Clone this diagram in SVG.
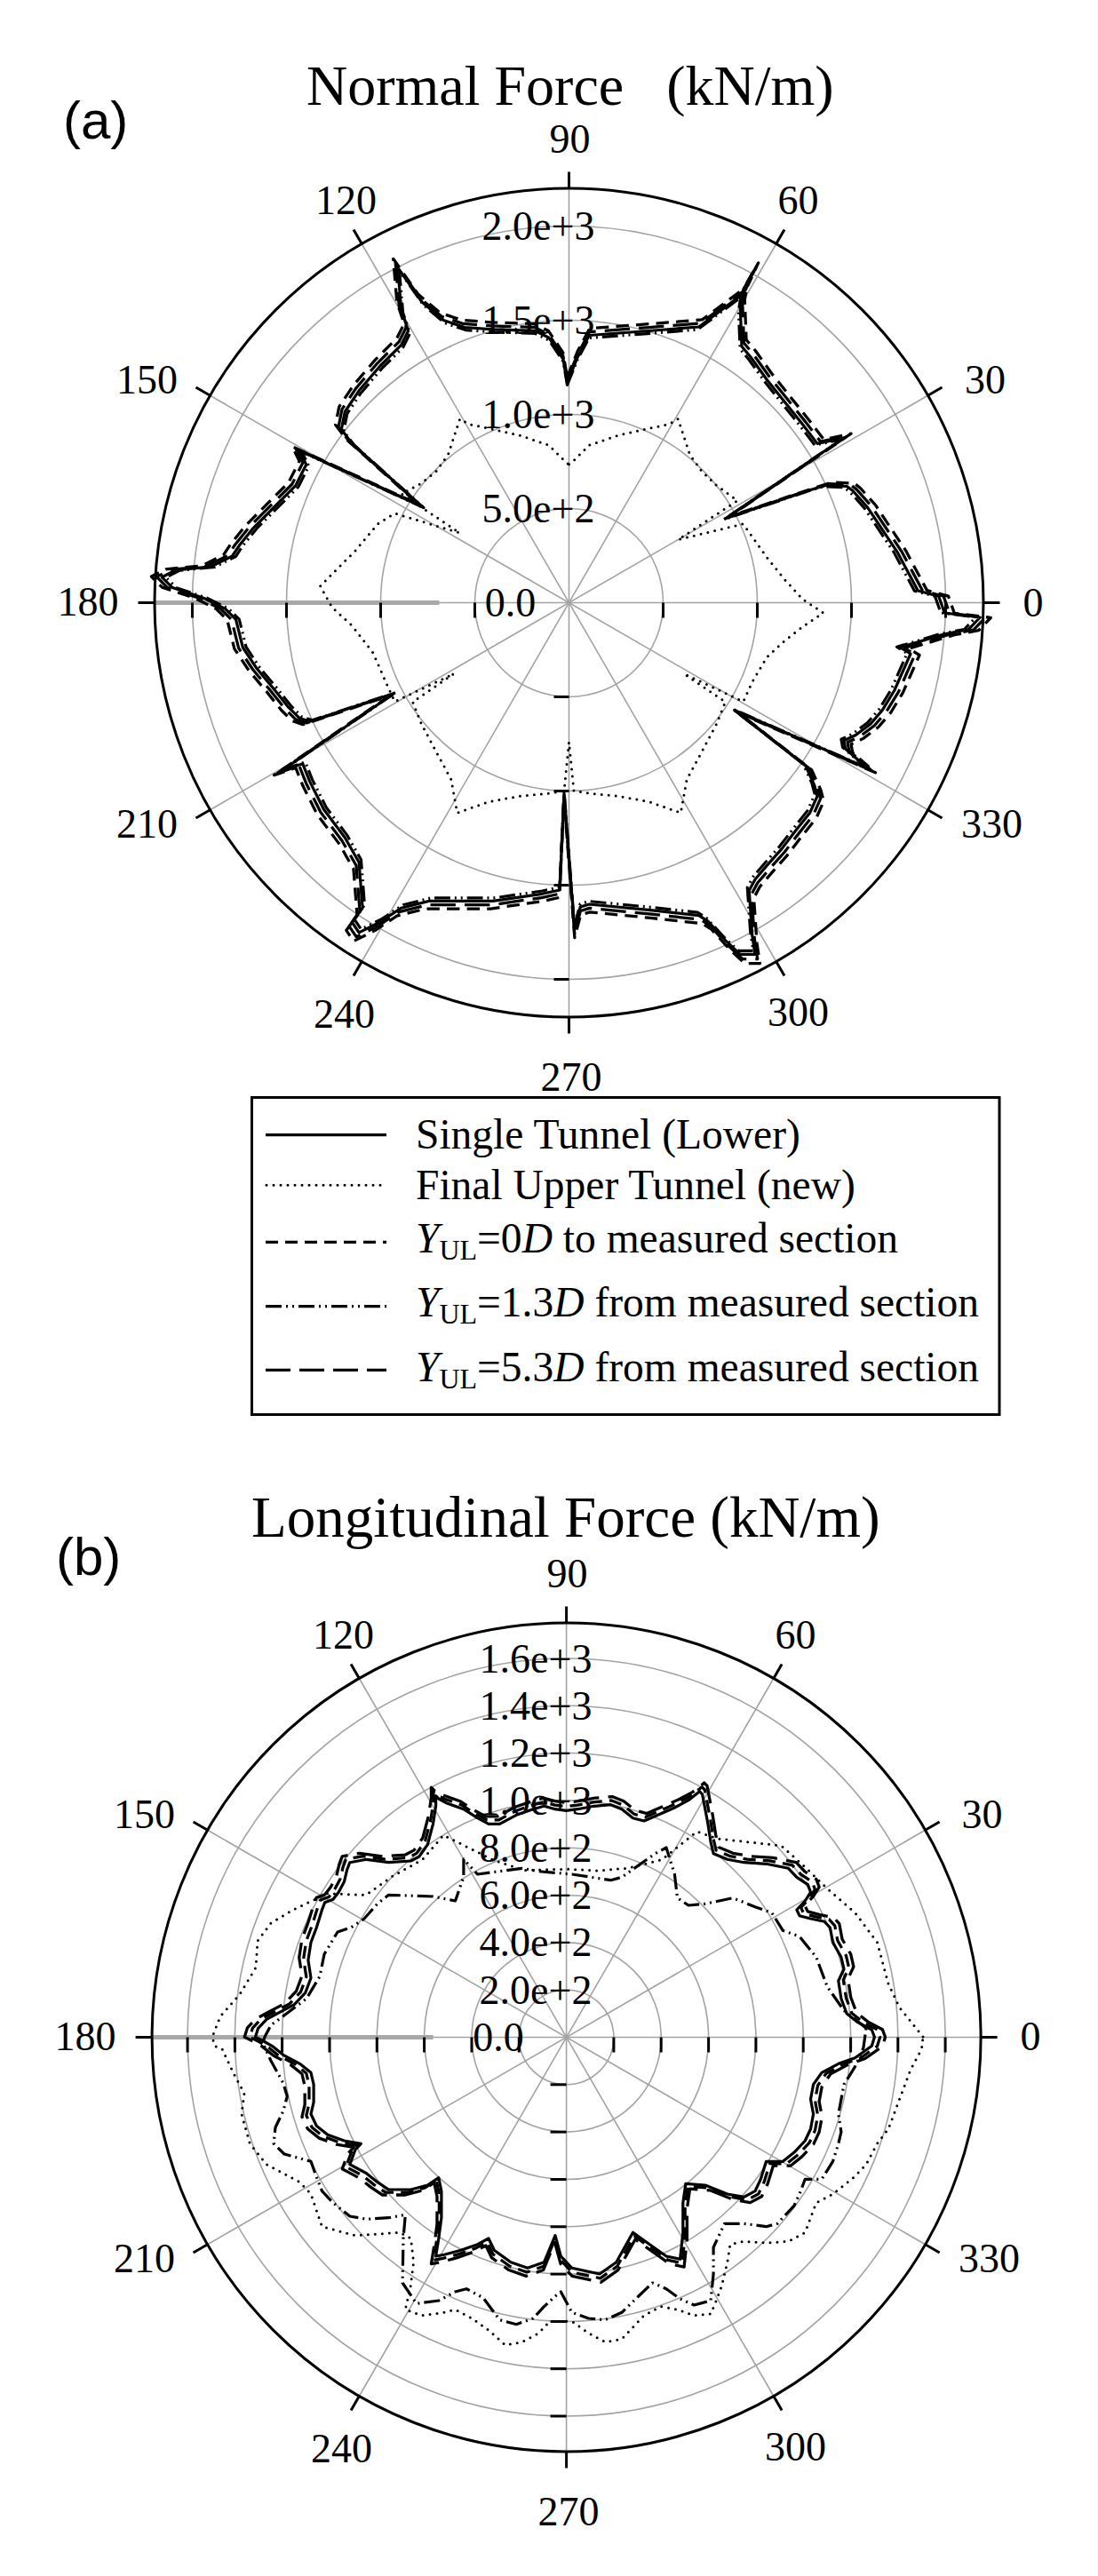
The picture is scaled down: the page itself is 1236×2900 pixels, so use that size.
<svg xmlns="http://www.w3.org/2000/svg" width="1236" height="2900" viewBox="0 0 1236 2900">
<style>
text{font-family:"Liberation Serif","Times New Roman",serif;fill:#000}
.sans{font-family:"Liberation Sans",Arial,sans-serif}
.ang{font-size:46px;text-anchor:middle}
.val{font-size:46px;text-anchor:middle}
.grid{stroke:#a3a3a3;stroke-width:1.6;fill:none}
.thick{stroke:#a8a8a8;stroke-width:5}
.outer{stroke:#000;stroke-width:3;fill:none}
.tick{stroke:#000;stroke-width:3}
.ln{stroke:#000;stroke-width:3.2;fill:none;stroke-linejoin:round}
.dot{stroke:#000;stroke-width:3;fill:none;stroke-dasharray:0 8;stroke-linecap:round}
.dash{stroke-dasharray:14 8}
.dashdot{stroke-dasharray:18 5 2 5 2 5}
.longdash{stroke-dasharray:28 10}
.leg{font-size:47.5px}
</style>
<defs>
<path id="solidA" d="M638.5,431 L650,402.5 663.3,377.5 730,372.5 786.7,368 836.7,330.6 848.3,305.6 836.7,326 833.3,346 835,390 845,402 863.3,427.5 883.3,452.5 903.3,477.5 920,499.4 950,493 816.7,583.8 913.3,551.3 930,546.3 953.3,547.5 960,552.5 976.7,571.3 993.3,596.3 1010,621.3 1023.3,646.3 1033.3,665 1056.7,671.3 1063.3,690 1103.3,695 1090,708.8 1063.3,713.8 1013.3,728.8 1025,736 1006.7,777.5 993.3,799.4 980,815 963.3,827.5 950,833.8 951.7,843 976.7,865 826.7,799.4 906.7,861.9 916.7,883.8 920,896.3 911.7,915 896.7,933.8 880,955.6 863.3,974.4 850,990 843.3,1002.5 846.7,1052.5 850,1074.4 833.3,1074.4 816.7,1058.8 796.7,1036.9 786.7,1030.6 730,1024.4 663.3,1018 653.3,1021 646.7,1046 635,893 630,1002 610.1,1006.3 554.7,1014.3 483.4,1014.3 451.7,1022.2 427.9,1038 404.1,1049.9 396.2,1038 408.1,1022.2 404.1,970.7 388.3,943 364.5,911.3 348.6,879.6 340.7,859.7 317,867.7 443.7,780.5 348.6,812.2 336.8,808.2 324.9,796.4 309,776.5 289.2,752.8 273.4,729 265.5,697.3 253.6,685.4 229.8,673.5 194.1,661.6 182.3,649.8 198,641.8 237.7,637.9 261.5,626 269.4,614.1 285.3,594.3 309,570.5 332.8,546.7 344.7,523 336.8,507.1 475.4,570.5 396.2,499.2 384.3,483.4 388.3,463.5 404.1,439.8 427.9,412 451.7,388.3 459.6,372.4 451.7,348.7 447.7,301.1 475,340 499.2,360.5 523,368.5 554.7,370.8 602.2,372.4 618,380.3 633.9,404.1 Z"/>
<path id="solidB" d="M981.3,2285 L965.6,2276.7 953.1,2266.7 946.9,2250 943.8,2230 950,2216.7 946.9,2203.3 937.5,2186.7 934.4,2170 928.1,2163.3 912.5,2160 900,2156.7 896.9,2150 906.3,2140 912.5,2130 909.4,2121.7 896.9,2113.3 887.5,2103.3 862.5,2098.3 837.5,2096.7 818.8,2093.3 803.1,2086.7 800,2073.3 796.9,2053.3 793.8,2036.7 790.6,2020 787.5,2016.7 775,2026.7 759.4,2035 740.6,2043.3 725,2050 712.5,2046.7 700,2036.7 687.5,2031.7 668.8,2033.3 650,2036.7 637.5,2038.3 625,2036.7 612.5,2033.3 600,2036.7 581.3,2043.3 562.5,2053.3 550,2053.3 537.5,2046.7 521.9,2036.7 503.1,2030 493.8,2025 490.6,2021.7 490.6,2033.3 487.5,2053.3 481.3,2076.7 471.9,2090 462.5,2095 437.5,2096.7 412.5,2093.3 393.8,2096.7 390.6,2105 387.5,2118.3 381.3,2130 375,2138.3 365.6,2141.7 362.5,2150 356.3,2170 350,2186.7 346.9,2206.7 350,2226.7 343.8,2243.3 331.3,2256.7 312.5,2266.7 300,2273.3 290.6,2283.3 287.5,2293.3 296.9,2298 306.3,2303.3 318.8,2313.3 337.5,2323.3 350,2333.3 353.1,2346.7 353.1,2366.7 350,2380 356.3,2393.3 368.8,2403.3 387.5,2410 406.3,2413.3 400,2420 393.8,2436.7 400,2440 412.5,2446.7 425,2456.7 437.5,2465 462.5,2465 481.3,2460 493.8,2451.7 496.9,2466.7 496.9,2496.7 493.8,2520 490.6,2540 500,2538.3 518.8,2533.3 537.5,2526.7 550,2520 556.3,2533.3 575,2546.7 593.8,2553.3 612.5,2546.7 625,2516.7 631.3,2540 643.8,2553.3 675,2560 693.8,2546.7 712.5,2513.3 731.3,2526.7 750,2540 765.6,2543.3 768.8,2513.3 768.8,2480 771.9,2458.3 793.8,2460 818.8,2470 837.5,2473.3 850,2466.7 856.3,2453.3 862.5,2433.3 881.3,2433.3 893.8,2423.3 906.3,2410 912.5,2396.7 915.6,2380 912.5,2363.3 915.6,2346.7 925,2333.3 943.8,2323.3 962.5,2316.7 971.9,2310 981.3,2303.3 984.4,2293.3 Z"/>
</defs>

<!-- Titles -->
<text class="sans" x="71" y="156" font-size="60">(a)</text>
<text x="345" y="118" font-size="64" xml:space="preserve">Normal Force   (kN/m)</text>
<text class="sans" x="63" y="1773" font-size="60">(b)</text>
<text x="283" y="1730" font-size="65">Longitudinal Force (kN/m)</text>

<!-- ===== Plot (a) ===== -->
<g id="plotA">
  <g id="gridA" transform="translate(640.5 678.5)">
    <circle class="grid" r="106"/><circle class="grid" r="212"/><circle class="grid" r="318"/><circle class="grid" r="424"/>
    <line class="grid" x1="-466.5" x2="466.5"/>
    <line class="grid" x1="-466.5" x2="466.5" transform="rotate(30)"/>
    <line class="grid" x1="-466.5" x2="466.5" transform="rotate(60)"/>
    <line class="grid" x1="-466.5" x2="466.5" transform="rotate(90)"/>
    <line class="grid" x1="-466.5" x2="466.5" transform="rotate(120)"/>
    <line class="grid" x1="-466.5" x2="466.5" transform="rotate(150)"/>
    <line class="thick" x1="-466.5" x2="-146"/>
  </g>
  <g id="valLabelsA">
    <text class="val" x="574.5" y="694">0.0</text>
    <text class="val" x="606" y="588">5.0e+2</text>
    <text class="val" x="606" y="482">1.0e+3</text>
    <text class="val" x="606" y="376">1.5e+3</text>
    <text class="val" x="606" y="270">2.0e+3</text>
  </g>
  <g id="axisTicksA" transform="translate(640.5 678.5)">
    <g class="tick">
      <line x1="106" y1="0" x2="106" y2="17"/><line x1="212" y1="0" x2="212" y2="17"/><line x1="318" y1="0" x2="318" y2="17"/><line x1="424" y1="0" x2="424" y2="17"/>
      <line x1="-106" y1="0" x2="-106" y2="17"/><line x1="-212" y1="0" x2="-212" y2="17"/><line x1="-318" y1="0" x2="-318" y2="17"/><line x1="-424" y1="0" x2="-424" y2="17"/>
      <line x1="0" y1="106" x2="-17" y2="106"/><line x1="0" y1="212" x2="-17" y2="212"/><line x1="0" y1="318" x2="-17" y2="318"/><line x1="0" y1="424" x2="-17" y2="424"/>
    </g>
  </g>
  <g id="seriesA">
    <path id="dotA" class="dot" d="M640.5,522.7 L643.2,521.2 663.2,501.2 696.3,490.1 729.8,482.5 753.3,477.6 763.3,471.6 776.5,511.7 790,530.6 806.6,546.4 830.2,563.6 763.5,607.5 836.6,589.9 863.2,627.5 883.3,652.5 903.4,674.4 926.7,690 903.3,705.7 883.3,721.3 863.3,739.9 846.6,768.1 836.7,789.9 770,758.5 816.5,790.2 806.6,815 790,846.3 773.2,877.4 766.3,915.1 730.1,902.5 696.4,896.4 663.1,893.1 646,890.4 640.5,835.4 635,890.4 617.9,893.1 584.6,896.4 550.9,902.5 514.7,915.1 507.8,877.4 491,846.3 474.4,815 464.5,790.2 511,758.5 444.3,789.9 434.4,768.1 420,735 396,704 374,684 360.5,660 380,640 400,620 425,590 444.4,578 517.5,600 452,556 474.4,544 491,530.6 504.5,511.7 517.7,471.6 527.7,477.6 551.2,482.5 584.7,490.1 617.8,501.2 637.8,521.2 Z"/>
    <use href="#solidA" class="ln dashdot" transform="translate(640.5 678.5) scale(0.99) translate(-640.5 -678.5)"/>
    <use href="#solidA" class="ln longdash" transform="translate(640.5 678.5) scale(1.013) translate(-640.5 -678.5)"/>
    <use href="#solidA" class="ln dash" transform="translate(640.5 678.5) scale(1.026) translate(-640.5 -678.5)"/>
    <use href="#solidA" class="ln"/>
  </g>
  <g id="frameA" transform="translate(640.5 678.5)">
    <circle class="outer" r="466.5"/>
    <g class="tick">
      <line x1="466.5" x2="485"/>
      <line x1="466.5" x2="485" transform="rotate(-30)"/>
      <line x1="466.5" x2="485" transform="rotate(-60)"/>
      <line x1="466.5" x2="485" transform="rotate(-90)"/>
      <line x1="466.5" x2="485" transform="rotate(-120)"/>
      <line x1="466.5" x2="485" transform="rotate(-150)"/>
      <line x1="466.5" x2="485" transform="rotate(180)"/>
      <line x1="466.5" x2="485" transform="rotate(150)"/>
      <line x1="466.5" x2="485" transform="rotate(120)"/>
      <line x1="466.5" x2="485" transform="rotate(90)"/>
      <line x1="466.5" x2="485" transform="rotate(60)"/>
      <line x1="466.5" x2="485" transform="rotate(30)"/>
    </g>
  </g>
  <g id="angLabelsA">
    <text class="ang" x="1163" y="694">0</text>
    <text class="ang" x="1109" y="443">30</text>
    <text class="ang" x="898.5" y="241">60</text>
    <text class="ang" x="641.5" y="172">90</text>
    <text class="ang" x="389.5" y="241">120</text>
    <text class="ang" x="165.5" y="443">150</text>
    <text class="ang" x="99" y="693">180</text>
    <text class="ang" x="165.5" y="943">210</text>
    <text class="ang" x="387.5" y="1157">240</text>
    <text class="ang" x="643" y="1227.5">270</text>
    <text class="ang" x="898.5" y="1154.5">300</text>
    <text class="ang" x="1116.5" y="943">330</text>
  </g>
</g>

<!-- ===== Legend ===== -->
<g id="legend">
  <rect x="283.5" y="1235.5" width="841.5" height="357" fill="#fff" stroke="#000" stroke-width="3"/>
  <line class="ln" x1="299" y1="1277.7" x2="435" y2="1277.7"/>
  <line class="dot" x1="300" y1="1334.3" x2="435" y2="1334.3"/>
  <line class="ln dash" x1="299" y1="1398.3" x2="435" y2="1398.3"/>
  <line class="ln dashdot" x1="299" y1="1470.7" x2="435" y2="1470.7"/>
  <line class="ln longdash" x1="299" y1="1542.3" x2="435" y2="1542.3"/>
  <text class="leg" x="468" y="1293">Single Tunnel (Lower)</text>
  <text class="leg" x="468" y="1350">Final Upper Tunnel (new)</text>
  <text class="leg" x="468" y="1410"><tspan font-style="italic">Y</tspan><tspan font-size="32" dy="8">UL</tspan><tspan dy="-8">=0</tspan><tspan font-style="italic">D</tspan> to measured section</text>
  <text class="leg" x="468" y="1482"><tspan font-style="italic">Y</tspan><tspan font-size="32" dy="8">UL</tspan><tspan dy="-8">=1.3</tspan><tspan font-style="italic">D</tspan> from measured section</text>
  <text class="leg" x="468" y="1555"><tspan font-style="italic">Y</tspan><tspan font-size="32" dy="8">UL</tspan><tspan dy="-8">=5.3</tspan><tspan font-style="italic">D</tspan> from measured section</text>
</g>

<!-- ===== Plot (b) ===== -->
<g id="plotB">
  <g id="gridB" transform="translate(637.6 2293.5)">
    <circle class="grid" r="53.3"/><circle class="grid" r="106.6"/><circle class="grid" r="160"/><circle class="grid" r="213.3"/>
    <circle class="grid" r="266.6"/><circle class="grid" r="320"/><circle class="grid" r="373.2"/><circle class="grid" r="426.5"/>
    <line class="grid" x1="-466.5" x2="466.5"/>
    <line class="grid" x1="-466.5" x2="466.5" transform="rotate(30)"/>
    <line class="grid" x1="-466.5" x2="466.5" transform="rotate(60)"/>
    <line class="grid" x1="-466.5" x2="466.5" transform="rotate(90)"/>
    <line class="grid" x1="-466.5" x2="466.5" transform="rotate(120)"/>
    <line class="grid" x1="-466.5" x2="466.5" transform="rotate(150)"/>
    <line class="thick" x1="-466.5" x2="-150"/>
  </g>
  <g id="valLabelsB">
    <text class="val" x="561" y="2309">0.0</text>
    <text class="val" x="603" y="2255.7">2.0e+2</text>
    <text class="val" x="603" y="2202.4">4.0e+2</text>
    <text class="val" x="603" y="2149.1">6.0e+2</text>
    <text class="val" x="603" y="2095.8">8.0e+2</text>
    <text class="val" x="603" y="2042.5">1.0e+3</text>
    <text class="val" x="603" y="1989.2">1.2e+3</text>
    <text class="val" x="603" y="1935.9">1.4e+3</text>
    <text class="val" x="603" y="1882.6">1.6e+3</text>
  </g>
  <g id="axisTicksB" transform="translate(637.6 2293.5)">
    <g class="tick">
      <line x1="53.3" x2="53.3" y2="17"/><line x1="106.6" x2="106.6" y2="17"/><line x1="160" x2="160" y2="17"/><line x1="213.3" x2="213.3" y2="17"/>
      <line x1="266.6" x2="266.6" y2="17"/><line x1="320" x2="320" y2="17"/><line x1="373.2" x2="373.2" y2="17"/><line x1="426.5" x2="426.5" y2="17"/>
      <line x1="-53.3" x2="-53.3" y2="17"/><line x1="-106.6" x2="-106.6" y2="17"/><line x1="-160" x2="-160" y2="17"/><line x1="-213.3" x2="-213.3" y2="17"/>
      <line x1="-266.6" x2="-266.6" y2="17"/><line x1="-320" x2="-320" y2="17"/><line x1="-373.2" x2="-373.2" y2="17"/><line x1="-426.5" x2="-426.5" y2="17"/>
      <line y1="53.3" x2="-18" y2="53.3"/><line y1="106.6" x2="-18" y2="106.6"/><line y1="160" x2="-18" y2="160"/><line y1="213.3" x2="-18" y2="213.3"/>
      <line y1="266.6" x2="-18" y2="266.6"/><line y1="320" x2="-18" y2="320"/><line y1="373.2" x2="-18" y2="373.2"/><line y1="426.5" x2="-18" y2="426.5"/>
    </g>
  </g>
  <g id="seriesB">
    <path id="dotB" class="dot" d="M1039,2293 L1012.5,2260 1000,2233.3 987.5,2186.7 962.5,2153.3 930,2125 908.4,2103.9 879.6,2077.9 808.2,2070 784.5,2062 744.8,2093.7 706.9,2103.1 673.5,2106 637.6,2104.2 590.3,2105.6 554.7,2093.7 499.2,2066 475.4,2093.7 442.6,2111.7 412,2133.4 368.8,2131.7 330,2150 305,2165 290,2185 288,2215 270,2245 248,2270 239,2293 241.7,2303.3 250,2306.7 262.5,2333.3 275,2356.7 271.9,2380 281.3,2413.3 300,2436.7 337.5,2456.7 350,2470 362.5,2506.7 400,2516.7 450,2513.3 462.5,2520 465.6,2546.7 462,2575 456.3,2600 475,2606.7 500,2603.3 512.5,2600 531.3,2610 550,2623.3 568.8,2640 587.5,2636.7 606.3,2626.7 618.8,2613.3 643.8,2613.3 662.5,2626.7 681.3,2636.7 700,2633.3 712.5,2620 725,2606.7 743.8,2596.7 762.5,2600 781.3,2606.7 800,2605 806.3,2590 812.5,2573.3 818.8,2546.7 821.9,2526.7 837.5,2523.3 862.5,2525 887.5,2523.3 906.3,2513.3 912.5,2496.7 918.8,2480 937.5,2470 950,2460 962.5,2450 975,2436.7 987.5,2413.3 1000,2396.7 1006.3,2380 1012.5,2363.3 1018.8,2346.7 1025,2330 1037.5,2306.7 Z"/>
    <path id="dashdotB" class="ln dashdot" d="M975,2283.3 L950,2263.3 931.3,2236.7 918.8,2203.3 900,2180 881.3,2173.3 868.8,2153.3 850,2146.7 825,2136.7 793.8,2143.3 775,2145 762.5,2136.7 759.4,2110 750,2080 737.5,2086.7 700,2113.3 687.5,2116.7 643.8,2110 606.3,2106.7 587.5,2103.3 537.5,2110 521.9,2093 521.9,2113 512.5,2140 487.5,2135 437.5,2133.3 425,2143 410,2160 395,2170 380,2175 365,2200 360,2225 345,2250 325,2265 305,2280 298,2293 296,2300 305,2320 318.8,2345 323.3,2360 318.8,2376.7 310,2395 308,2413 320,2425 350,2433.3 356,2450 362.5,2466.7 375,2480 393.8,2495 412.5,2498.3 437.5,2496.7 456.3,2493.3 454,2520 453.1,2570 468.8,2593.3 493.8,2590 512.5,2580 525,2576.7 543.8,2586.7 562.5,2611.7 581.3,2616.7 600,2610 612.5,2596.7 625,2585 631.3,2580 643.8,2603.3 662.5,2610 681.3,2611.7 700,2603.3 718.8,2585 734.4,2570 750,2576.7 765.6,2588 781.3,2595 800,2590 803.1,2560 803.1,2530 815.6,2503.3 837.5,2503.3 862.5,2506.7 875,2503.3 893.8,2483.3 900,2470 906.3,2453.3 925,2453.3 937.5,2433.3 943.8,2413.3 946.9,2400 943.8,2380 950,2346.7 962.5,2326.7 972,2305 Z"/>
    <use href="#solidB" class="ln longdash" transform="translate(637.6 2293.5) scale(1.035) translate(-637.6 -2293.5)"/>
    <use href="#solidB" class="ln dash" transform="translate(637.6 2293.5) scale(1.018) translate(-637.6 -2293.5)"/>
    <use href="#solidB" class="ln"/>
  </g>
  <g id="frameB" transform="translate(637.6 2293.5)">
    <circle class="outer" r="466.5"/>
    <g class="tick">
      <line x1="466.5" x2="485"/>
      <line x1="466.5" x2="485" transform="rotate(-30)"/>
      <line x1="466.5" x2="485" transform="rotate(-60)"/>
      <line x1="466.5" x2="485" transform="rotate(-90)"/>
      <line x1="466.5" x2="485" transform="rotate(-120)"/>
      <line x1="466.5" x2="485" transform="rotate(-150)"/>
      <line x1="466.5" x2="485" transform="rotate(180)"/>
      <line x1="466.5" x2="485" transform="rotate(150)"/>
      <line x1="466.5" x2="485" transform="rotate(120)"/>
      <line x1="466.5" x2="485" transform="rotate(90)"/>
      <line x1="466.5" x2="485" transform="rotate(60)"/>
      <line x1="466.5" x2="485" transform="rotate(30)"/>
    </g>
  </g>
  <g id="angLabelsB">
    <text class="ang" x="1160.1" y="2308">0</text>
    <text class="ang" x="1105.6" y="2057.5">30</text>
    <text class="ang" x="895.6" y="1856">60</text>
    <text class="ang" x="638.6" y="1787">90</text>
    <text class="ang" x="386.6" y="1856">120</text>
    <text class="ang" x="162.6" y="2057.5">150</text>
    <text class="ang" x="96.1" y="2308">180</text>
    <text class="ang" x="162.6" y="2558">210</text>
    <text class="ang" x="384.6" y="2772">240</text>
    <text class="ang" x="640.1" y="2842.5">270</text>
    <text class="ang" x="895.6" y="2769.5">300</text>
    <text class="ang" x="1113.6" y="2558">330</text>
  </g>
</g>
</svg>
